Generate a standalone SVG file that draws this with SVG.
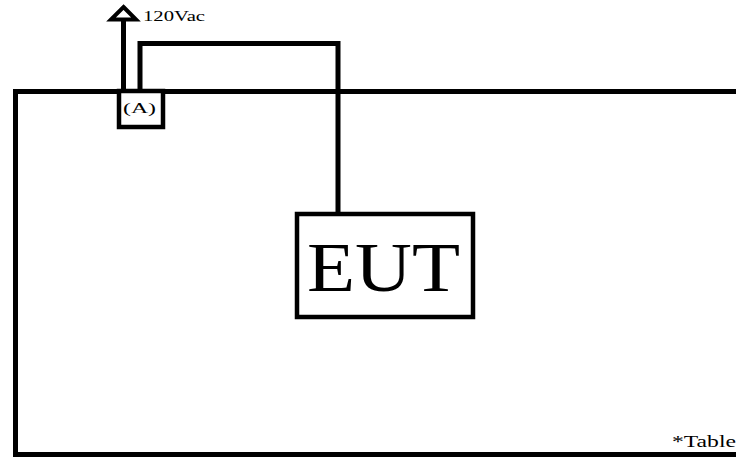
<svg xmlns="http://www.w3.org/2000/svg" width="736" height="457" viewBox="0 0 736 457">
<style>
.ln{fill:none;stroke:#000;stroke-width:5;stroke-linecap:butt;stroke-linejoin:miter}
.bx{fill:#fff;stroke:#000;stroke-width:4.5}
.t{font-family:"Liberation Serif","DejaVu Serif",serif;fill:#000}
</style>
<rect width="736" height="457" fill="#fff"/>
<g id="table">
<path class="ln" d="M740,91.5 H15.5 V454.5 H740"/>
<text class="t" x="672" y="447" font-size="17" textLength="64" lengthAdjust="spacingAndGlyphs">*Table</text>
</g>
<g id="connectors">
<path class="ln" d="M123.5,91 V18"/>
<polygon points="123.5,7 136,19.5 111,19.5" fill="#fff" stroke="#000" stroke-width="4" stroke-linejoin="miter"/>
<path class="ln" d="M140,91 V43.5 H338 V213"/>
</g>
<g id="outlet">
<rect class="bx" x="119" y="91" width="44" height="36"/>
<text class="t" x="123" y="113" font-size="15" textLength="33" lengthAdjust="spacingAndGlyphs">(A)</text>
</g>
<g id="source">
<text class="t" x="143" y="21" font-size="14" textLength="62" lengthAdjust="spacingAndGlyphs">120Vac</text>
</g>
<g id="eut">
<rect class="bx" x="297" y="214" width="176" height="103"/>
<text class="t" x="307" y="291" font-size="70" textLength="153" lengthAdjust="spacingAndGlyphs">EUT</text>
</g>
</svg>
